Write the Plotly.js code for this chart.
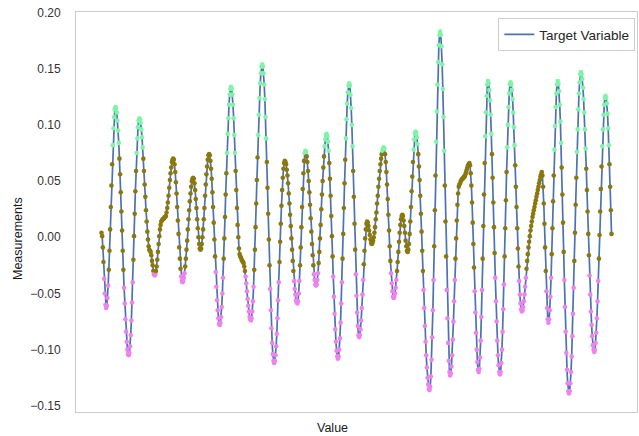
<!DOCTYPE html>
<html>
<head>
<meta charset="utf-8">
<script src="https://cdn.plot.ly/plotly-3.0.1.min.js"></script>
<style>html,body{margin:0;padding:0;background:#fff;}#chart{width:639px;height:436px;}</style>
</head>
<body>
<div id="chart"></div>
<script>
const part1 = [0.004,0.001,-0.009,-0.022,-0.037,-0.050,-0.060,-0.063,
-0.061,-0.054,-0.043,-0.029,-0.012,0.007,0.027,0.046,0.065,0.082,0.097,0.107,0.114,0.116,
0.115,0.111,0.104,0.095,0.084,0.070,0.056,0.040,0.023,0.006,-0.012,-0.029,-0.045,-0.059,-0.073,-0.084,-0.093,-0.100,-0.104,-0.105,
-0.103,-0.097,-0.087,-0.074,-0.058,-0.040,-0.020,0.001,0.021,0.041,0.059,0.075,0.088,0.098,0.104,0.106,
0.105,0.102,0.096,0.089,0.080,0.070,0.059,0.047,0.036,0.024,0.014,0.005,-0.002,-0.008,-0.011,-0.012,
-0.013,-0.016,-0.021,-0.025,-0.030,-0.033,-0.034,
-0.033,-0.030,-0.026,-0.020,-0.013,-0.006,0.001,0.007,0.011,0.014,0.015,
0.016,0.016,0.017,0.018,0.018,
0.019,0.022,0.026,0.031,0.037,0.044,0.051,0.057,0.062,0.067,0.069,0.070,
0.069,0.065,0.058,0.049,0.039,0.027,0.015,0.003,-0.009,-0.019,-0.028,-0.035,-0.039,-0.040,
-0.039,-0.036,-0.032,-0.026,-0.019,-0.011,-0.003,0.007,0.016,0.024,0.032,0.039,0.045,0.050,0.052,0.053,
0.052,0.048,0.042,0.034,0.026,0.016,0.008,0.000,-0.006,-0.010,-0.011,
-0.010,-0.006,0.000,0.007,0.016,0.026,0.037,0.047,0.056,0.063,0.069,0.073,0.074];
const part2 = [0.073,0.068,0.061,0.052,0.040,0.027,0.013,-0.002,-0.017,-0.031,-0.044,-0.056,-0.065,-0.072,-0.077,-0.078,
-0.076,-0.071,-0.062,-0.050,-0.036,-0.019,-0.001,0.018,0.038,0.057,0.075,0.092,0.106,0.118,0.127,0.132,0.134,
0.132,0.127,0.118,0.106,0.091,0.075,0.059,0.042,0.026,0.011,0.000,-0.010,-0.015,-0.017,
-0.018,-0.020,-0.021,-0.022,
-0.023,-0.026,-0.030,-0.035,-0.041,-0.048,-0.055,-0.061,-0.066,-0.071,-0.073,-0.074,
-0.072,-0.066,-0.057,-0.044,-0.029,-0.011,0.009,0.030,0.051,0.071,0.091,0.109,0.124,0.137,0.146,0.152,0.154,
0.152,0.146,0.136,0.123,0.107,0.088,0.067,0.044,0.021,-0.002,-0.025,-0.046,-0.065,-0.081,-0.094,-0.104,-0.110,-0.112,
-0.110,-0.105,-0.097,-0.086,-0.072,-0.056,-0.040,-0.022,-0.004,0.012,0.028,0.042,0.053,0.061,0.066,0.068,
0.067,0.065,0.060,0.055,0.048,0.039,0.030,0.020,0.010,-0.001,-0.011,-0.021,-0.030,-0.039,-0.046,-0.051,-0.056,-0.058,-0.059,
-0.057,-0.050,-0.039,-0.025,-0.009,0.009,0.027,0.043,0.057,0.068,0.075,0.077,
0.076,0.072,0.067,0.059,0.050,0.040,0.029,0.017,0.005,-0.006,-0.016,-0.025,-0.033,-0.038,-0.042,-0.043,
-0.042,-0.038,-0.032,-0.023,-0.013,-0.001,0.011,0.025,0.038,0.050,0.062,0.072,0.081,0.087,0.091,0.092];
const part3 = [0.090,0.085,0.077,0.066,0.052,0.037,0.019,0.001,-0.017,-0.035,-0.053,-0.068,-0.082,-0.093,-0.101,-0.106,-0.108,
-0.106,-0.100,-0.090,-0.076,-0.059,-0.040,-0.019,0.003,0.026,0.048,0.069,0.088,0.105,0.119,0.129,0.135,0.137,
0.135,0.127,0.115,0.100,0.081,0.059,0.036,0.012,-0.011,-0.033,-0.052,-0.067,-0.079,-0.087,-0.089,
-0.087,-0.082,-0.074,-0.063,-0.051,-0.038,-0.024,-0.012,-0.001,0.007,0.012,0.014,
0.013,0.010,0.006,0.002,-0.002,-0.005,-0.006,
-0.005,-0.003,0.000,0.004,0.009,0.016,0.022,0.030,0.037,0.045,0.052,0.059,0.065,0.070,0.074,0.077,0.079,0.080,
0.079,0.074,0.067,0.058,0.047,0.034,0.020,0.006,-0.008,-0.021,-0.032,-0.041,-0.048,-0.053,-0.054,
-0.053,-0.050,-0.045,-0.038,-0.030,-0.022,-0.013,-0.004,0.004,0.011,0.016,0.019,0.020,
0.019,0.015,0.010,0.004,-0.003,-0.008,-0.012,-0.013,
-0.011,-0.006,0.003,0.014,0.027,0.041,0.054,0.067,0.078,0.087,0.092,0.094,
0.093,0.089,0.083,0.074,0.063,0.051,0.037,0.021,0.005,-0.012,-0.030,-0.047,-0.063,-0.079,-0.093,-0.105,-0.116,-0.125,-0.131,-0.135,-0.136,
-0.133,-0.124,-0.109,-0.089,-0.065,-0.038,-0.008,0.024,0.055,0.085,0.112,0.136,0.156,0.171,0.180,0.183,
0.180,0.170,0.154,0.132,0.107,0.077,0.046,0.014,-0.017,-0.047,-0.072,-0.094,-0.110,-0.120,-0.123,
-0.121,-0.115,-0.105,-0.091,-0.075,-0.057,-0.038,-0.019,-0.001,0.015,0.029,0.039,0.045,0.047,
0.048,0.050,0.051,0.052,0.052,0.053,0.054,
0.054,0.056,0.058,0.060,0.062,0.064,0.065,0.066];
const part4 = [0.064,0.057,0.046,0.031,0.013,-0.006,-0.027,-0.048,-0.067,-0.085,-0.100,-0.111,-0.118,-0.120,
-0.117,-0.107,-0.092,-0.071,-0.047,-0.019,0.010,0.038,0.066,0.090,0.111,0.126,0.136,0.139,
0.137,0.131,0.122,0.109,0.092,0.074,0.053,0.031,0.009,-0.014,-0.036,-0.057,-0.075,-0.092,-0.105,-0.114,-0.120,-0.122,
-0.120,-0.112,-0.100,-0.084,-0.064,-0.042,-0.017,0.008,0.033,0.058,0.080,0.100,0.116,0.128,0.136,0.138,
0.136,0.131,0.123,0.111,0.098,0.082,0.064,0.045,0.027,0.008,-0.010,-0.026,-0.039,-0.051,-0.059,-0.064,-0.066,
-0.065,-0.062,-0.057,-0.051,-0.044,-0.036,-0.028,-0.021,-0.015,-0.009,-0.004,0.001,0.006,0.010,0.014,0.018,0.021,0.024,0.027,0.030,0.033,0.036,0.039,0.042,0.045,0.048,0.051,0.054,0.056,0.058,
0.055,0.045,0.030,0.012,-0.009,-0.030,-0.048,-0.063,-0.073,-0.076,
-0.073,-0.065,-0.053,-0.036,-0.015,0.008,0.032,0.055,0.078,0.099,0.116,0.128,0.136,0.139,
0.137,0.130,0.118,0.103,0.084,0.062,0.038,0.013,-0.013,-0.038,-0.062,-0.084,-0.103,-0.118,-0.130,-0.137,-0.139,
-0.137,-0.130,-0.120,-0.106,-0.088,-0.068,-0.045,-0.021,0.004,0.029,0.053,0.076,0.096,0.114,0.128,0.138,0.145,0.147,
0.145,0.141,0.133,0.123,0.111,0.096,0.079,0.061,0.042,0.023,0.003,-0.016,-0.034,-0.051,-0.066,-0.078,-0.088,-0.096,-0.100,-0.102,
-0.100,-0.094,-0.085,-0.072,-0.057,-0.039,-0.019,0.002,0.023,0.043,0.063,0.081,0.096,0.109,0.118,0.124,0.126,
0.124,0.119,0.110,0.097,0.082,0.065,0.045,0.024,0.003];

const yTickVals = [-0.15,-0.10,-0.05,0.00,0.05,0.10,0.15,0.20];
const highLevel = 0.075;   // markers above: green
const lowLevel = -0.031;   // markers below: violet

const measurements = part1.concat(part2, part3, part4);
const sampleIndex = measurements.map((v, i) => i);
const markerColors = measurements.map(v => v >= highLevel ? '#7ef5a6' : (v <= lowLevel ? '#ee82ee' : '#8b780c'));

const font = {family: 'Liberation Sans, Arial, sans-serif', size: 12, color: '#262626'};
const n = measurements.length;
const pad = (n - 1) * 0.05;

const traces = [
  {x: sampleIndex, y: measurements, type: 'scatter', mode: 'lines', name: 'Target Variable',
   line: {color: '#4c72b0', width: 1.7}, hoverinfo: 'skip'},
  {x: sampleIndex, y: measurements, type: 'scatter', mode: 'markers', showlegend: false,
   marker: {color: markerColors, size: 4.6, line: {width: 0}}}
];

const layout = {
  width: 639, height: 436,
  margin: {l: 76, r: 2, t: 12, b: 24, pad: 0},
  paper_bgcolor: '#ffffff', plot_bgcolor: '#ffffff',
  font: font,
  showlegend: true,
  xaxis: {range: [-pad, n - 1 + pad], showticklabels: false, ticks: '', showgrid: false, zeroline: false,
          showline: true, mirror: true, linecolor: '#cccccc', linewidth: 1},
  yaxis: {range: [-0.1555, 0.2005], tickvals: yTickVals, tickformat: '.2f', ticks: '', showgrid: false,
          zeroline: false, showline: true, mirror: true, linecolor: '#cccccc', linewidth: 1,
          ticklabelstandoff: 12, tickfont: {size: 12, color: '#333333'}},
  legend: {x: 0.997, xanchor: 'right', y: 0.985, yanchor: 'top', bgcolor: 'rgba(255,255,255,0.8)',
           bordercolor: '#cccccc', borderwidth: 1, font: {size: 13.5, color: '#262626'}},
  annotations: [
    {text: 'Value', xref: 'paper', yref: 'paper', x: 0.458, y: 0, yshift: -16, yanchor: 'middle',
     showarrow: false, font: {size: 12.5, color: '#1a1a1a'}},
    {text: 'Measurements', xref: 'paper', yref: 'paper', x: -0.1034, y: 0.435, textangle: -90,
     xanchor: 'center', yanchor: 'middle', showarrow: false, font: {size: 12.5, color: '#1a1a1a'}}
  ]
};

Plotly.newPlot('chart', traces, layout, {displayModeBar: false, staticPlot: true});
</script>
</body>
</html>
